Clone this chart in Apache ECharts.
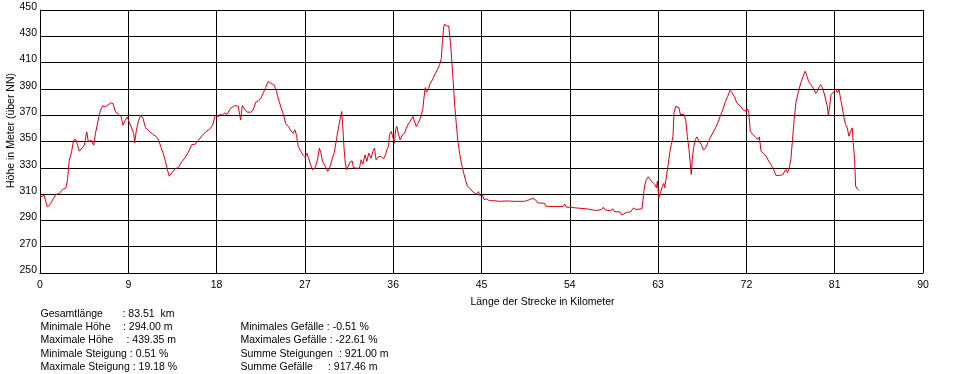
<!DOCTYPE html>
<html>
<head>
<meta charset="utf-8">
<script src="https://cdn.jsdelivr.net/npm/echarts@6/dist/echarts.min.js"></script>
<style>
html,body{margin:0;padding:0;background:#fff;}
#chart{width:973px;height:374px;}
</style>
</head>
<body>
<div id="chart"></div>
<script>
// Distance along the route (km)
const distanceKm = [
0.0,0.41,0.58,0.75,1.03,1.27,1.6,1.95,2.3,2.63,2.8,2.98,3.22,3.42,3.66,4.0,4.17,4.52,4.76,4.93,
5.2,5.48,5.65,5.89,6.16,6.4,6.64,6.91,7.19,7.43,7.7,8.0,8.28,8.45,8.69,8.9,9.07,9.3,9.55,9.65,
9.82,10.06,10.27,10.5,10.75,11.2,11.53,11.87,12.1,12.3,12.56,12.8,13.0,13.17,13.41,13.76,14.1,14.44,14.78,15.13,
15.47,15.81,16.15,16.5,16.9,17.35,17.59,17.86,18.14,18.37,18.6,18.82,19.06,19.4,19.85,20.2,
20.45,20.62,20.9,21.14,21.48,21.72,21.99,22.26,22.5,22.74,23.0,23.25,23.52,23.7,23.86,24.1,24.38,24.65,24.82,25.06,
25.33,25.57,25.8,25.98,26.15,26.32,26.6,26.83,27.03,27.2,27.37,27.58,27.78,28.06,28.3,28.47,28.64,28.8,29.08,29.32,
29.49,29.76,30.0,30.24,30.44,30.61,30.75,30.85,30.99,31.12,31.26,31.4,31.6,31.81,31.94,32.22,32.56,32.73,32.9,33.14,
33.31,33.51,33.75,33.92,34.09,34.26,34.53,34.77,35.01,35.22,35.35,35.52,35.62,35.8,35.97,36.14,36.24,36.37,36.55,36.71,
36.92,37.16,37.33,37.5,37.67,37.84,38.01,38.18,38.35,38.52,38.69,38.86,39.03,39.13,39.27,39.38,39.61,39.78,39.99,40.22,
40.4,40.57,40.74,40.91,41.01,41.15,41.25,41.42,41.66,41.76,41.86,42.0,42.14,42.27,42.44,
42.6,42.71,42.88,43.05,43.22,43.39,43.56,43.8,44.0,44.25,44.49,44.69,44.83,45.0,45.1,45.27,45.51,45.79,46.3,46.81,
46.88,46.98,47.67,48.35,48.46,48.52,49.38,49.89,50.24,50.51,50.75,51.43,51.53,52.29,53.32,53.49,53.66,54.0,54.62,54.68,
55.71,55.88,56.05,56.22,56.74,57.25,57.42,57.6,58.1,58.38,58.52,59.13,59.3,59.82,60.16,60.5,60.71,60.91,61.36,
61.45,61.55,61.65,61.8,62.0,62.2,62.42,62.66,62.83,62.93,63.07,63.24,63.44,63.58,63.68,63.85,64.01,64.18,64.35,64.52,
64.62,64.79,64.93,65.13,65.27,65.47,65.64,65.81,65.98,66.15,66.28,66.38,66.48,66.62,66.79,66.96,67.16,67.4,67.63,67.84,
68.07,68.31,68.58,68.85,69.09,69.33,69.6,69.87,70.1,70.34,70.54,70.78,71.02,71.22,71.46,71.63,71.8,71.97,72.13,72.24,
72.4,72.64,72.91,73.15,73.32,73.49,73.72,74.0,74.27,74.5,74.67,74.84,75.01,75.35,75.69,75.86,76.02,76.19,76.36,76.53,
76.7,76.87,77.04,77.31,77.55,77.78,77.99,78.16,78.33,78.56,78.73,78.9,79.06,79.23,79.41,79.57,79.74,79.91,80.08,80.25,
80.35,80.49,80.62,80.83,81.0,81.1,81.27,81.44,81.61,81.78,81.95,82.11,82.28,82.45,82.62,82.79,82.89,83.03,83.13,83.3,83.47
];
// Elevation (m above NN)
const elevationM = [
307.4,309.2,308.4,300.3,302,305.4,309.7,310.4,313.5,314.7,320.6,335.8,342.1,351,351.5,342.6,343.9,347.2,357.3,349.7,
351,347.2,356,364.9,373.8,377.1,376.3,377.6,379.4,378.9,372.5,370.8,368.7,362.4,366.2,368.7,364.9,361.1,356.1,349,
358.6,366.2,370,367.5,360.6,357.3,355.3,353.5,351,346.4,340.8,334.5,328.2,323.6,326.1,329.2,330.2,334.5,337.6,342.1,
347.7,347.9,351,354.3,357.3,359.9,362.4,370,368.7,370.8,370,371.8,370.5,375.1,377.4,376.8,
366.4,377.3,374,372.3,372.3,374,379.9,380.9,382.9,386.7,391,395.6,394.3,395.6,393,388,380.4,374,370.2,363.2,
361.4,358.1,356.3,358.9,354.5,346.2,342.4,339.4,337.8,341.1,337.3,332.3,328.5,330.2,336.8,344.9,341.1,334.8,331,327.2,
329.2,336.1,341.9,352.5,361.4,367.7,372.8,362.6,344.9,333.5,328.5,331,334.3,335.3,330.2,329.7,329.7,336.1,332.8,339.9,
334.8,341.1,337.3,342.4,344.9,336.1,338.6,338.6,336.8,339.9,343.7,346.2,355,357.6,356.3,348.7,358.9,361.4,355,351.3,
355,356.3,360.1,362.6,364.7,365.7,369,370.2,361.4,363.9,366.4,370.2,375.3,382.9,391,387.5,390.5,394.3,396.8,400.6,
401.9,405.7,408.7,413.3,425.9,437.3,439.35,437.8,437.8,436.6,423.4,408.2,393,377.8,362.6,
350,343.8,336.3,330,325,320,316.3,314.3,313,310.8,310,311.8,308.8,307.5,309.3,305.8,306.3,305,305,304.5,
303.3,304.8,304.8,304.5,303.3,305,304.5,305.8,306.8,305.5,303.3,303,300.8,300.5,300.5,302.5,300,300,299.5,298.8,
298.8,297.5,298.3,297,297.5,298.3,300,298,297.3,298.8,296.8,296.3,294,296.3,296.3,299.5,298.3,298.8,298.8,
305,312,317,321,323.2,321,319.1,317.3,314.8,319.9,307.2,311,316.1,318.1,314.8,323.7,331.3,341.4,347.7,354,
371.8,376.8,377.8,375.6,370.5,369.2,370.5,366.7,354,343.9,333.8,324.9,336.3,345.2,351.5,353.5,350.2,347.7,343.4,345.2,
349,352.8,356.6,360.4,364.2,369.2,374.3,380.6,384.4,389,387,383.9,379.4,379.4,376.3,374.3,375.6,373,374.8,371.8,
357.8,355.3,353.5,351.5,353.5,342.7,340.9,338.9,335.1,332.5,330,327.5,324.2,324.2,324.7,325.7,328.7,326.2,330,336.3,
351.5,366.7,379.4,388.2,394.6,399.6,403.4,400.1,395.8,393.3,392,389.5,386.5,388.2,391.5,393.3,390.8,387,385.7,376.8,
369.7,376.8,385.7,387,386.2,390,387,389.5,381.9,375.6,368,362.9,360.4,354,357.8,360.4,349,336.3,316.1,314,312.8
];
const xAxisTitle = 'Länge der Strecke in Kilometer';
const yAxisTitle = 'Höhe in Meter (über NN)';
// Summary block: [label, value]
const statsLeft = [
  ['Gesamtlänge', ': 83.51  km'],
  ['Minimale Höhe', ': 294.00 m'],
  ['Maximale Höhe', ': 439.35 m'],
  ['Minimale Steigung', ': 0.51 %'],
  ['Maximale Steigung', ': 19.18 %']
];
const statsRight = [
  ['Minimales Gefälle', ': -0.51 %'],
  ['Maximales Gefälle', ': -22.61 %'],
  ['Summe Steigungen', ': 921.00 m'],
  ['Summe Gefälle', ': 917.46 m']
];

const FONT = 'Arial, "Liberation Sans", sans-serif';
const FS = 10.5;
const chart = echarts.init(document.getElementById('chart'), null, {renderer: 'canvas'});

const lineData = distanceKm.map((d, i) => [d, elevationM[i]]);

// layout for text block
const rowY = [314, 327.5, 340.5, 354, 367.5];
const leftValX = [122.5, 123, 126.5, null, null];
const rightValX = [null, null, 339, 328];
const graphics = [];
function addText(x, y, t) {
  graphics.push({type:'text', x:x, y:y, silent:true,
    style:{text: t, fill:'#000', font: FS + 'px ' + FONT, verticalAlign:'middle'}});
}
statsLeft.forEach((s, i) => {
  if (leftValX[i] === null) addText(40.5, rowY[i], s[0] + ' ' + s[1]);
  else { addText(40.5, rowY[i], s[0]); addText(leftValX[i], rowY[i], s[1]); }
});
statsRight.forEach((s, i) => {
  const y = rowY[i + 1];
  if (rightValX[i] === null) addText(240.5, y, s[0] + ' ' + s[1]);
  else { addText(240.5, y, s[0]); addText(rightValX[i], y, s[1]); }
});

chart.setOption({
  animation: false,
  backgroundColor: '#ffffff',
  grid: {left: 40, top: 10, right: 50, bottom: 101, containLabel: false, outerBoundsMode: 'none'},
  xAxis: {
    type: 'value', min: 0, max: 90, interval: 9,
    name: xAxisTitle, nameLocation: 'middle', nameGap: 24,
    nameTextStyle: {color: '#000', fontSize: FS, fontFamily: FONT, padding: [0, 0, 0, 122]},
    axisLine: {show: true, lineStyle: {color: '#000', width: 1}},
    axisTick: {show: false},
    axisLabel: {color: '#000', fontSize: FS, fontFamily: FONT, margin: 7},
    splitLine: {show: true, lineStyle: {color: '#000', width: 1}}
  },
  yAxis: {
    type: 'value', min: 250, max: 450, interval: 20,
    name: yAxisTitle, nameLocation: 'middle', nameGap: 23, nameRotate: 90, nameMoveOverlap: false,
    nameTextStyle: {color: '#000', fontSize: FS, fontFamily: FONT, padding: [0, 0, 0, 22]},
    axisLine: {show: true, lineStyle: {color: '#000', width: 1}},
    axisTick: {show: false},
    axisLabel: {color: '#000', fontSize: FS, fontFamily: FONT, margin: 3, verticalAlign: 'bottom', lineHeight: 6},
    splitLine: {show: true, lineStyle: {color: '#000', width: 1}}
  },
  series: [{
    type: 'line',
    data: lineData,
    showSymbol: false,
    symbol: 'none',
    lineStyle: {color: '#dd0010', width: 1},
    silent: true
  }],
  graphic: graphics
});
</script>
</body>
</html>
